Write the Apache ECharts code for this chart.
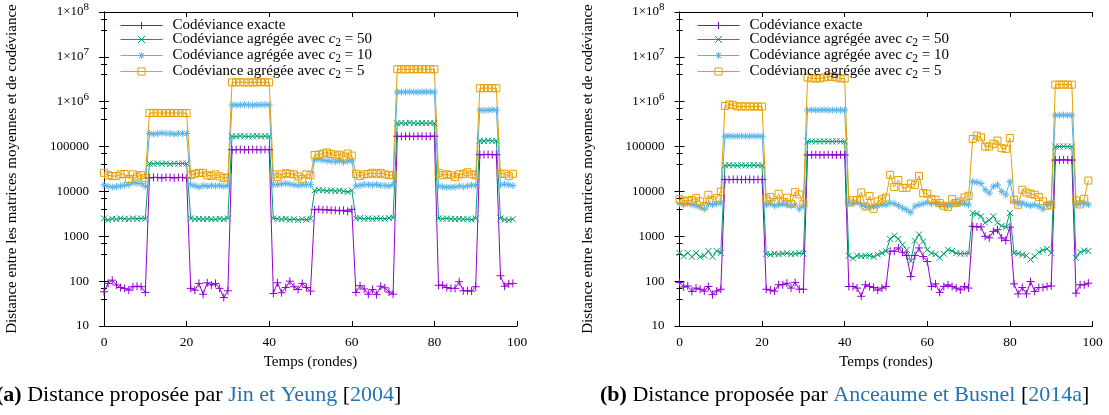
<!DOCTYPE html>
<html>
<head>
<meta charset="utf-8">
<script src="https://cdn.jsdelivr.net/npm/echarts@6/dist/echarts.min.js"></script>
<style>
  html, body { margin: 0; padding: 0; background: #fff; }
  #chart { width: 1109px; height: 415px; }
</style>
</head>
<body>
<div id="chart"></div>
<script>
// rounds 0..99, one value per round
const exactA = [
  58, 89, 105, 82, 72, 69, 63, 75, 77, 75, 56,
  20000, 20500, 20500, 20000, 20500, 20500, 20000, 20500, 20500, 20000,
  69, 63, 89, 51, 92, 82, 89, 69, 43, 61,
  85000, 85000, 86000, 85000, 85000, 86000, 85000, 85000, 86000, 85000,
  53, 92, 55, 72, 100, 75, 65, 89, 72, 60,
  3900, 4000, 3900, 3900, 3800, 3800, 3700, 3800, 3600, 4000,
  56, 79, 67, 51, 65, 50, 77, 71, 57, 51,
  170000, 168000, 170000, 170000, 168000, 170000, 170000, 168000, 170000, 170000,
  81, 81, 72, 69, 69, 97, 61, 61, 60, 75,
  66000, 66000, 67000, 66000, 66000,
  132, 77, 87, 89
];
const c50A = [
  2500, 2300, 2450, 2400, 2500, 2450, 2400, 2500, 2450, 2500, 2450,
  42000, 41000, 42000, 41500, 42000, 41000, 42000, 41500, 42000, 42000,
  2500, 2400, 2450, 2400, 2450, 2400, 2400, 2450, 2400, 2500,
  170000, 168000, 172000, 170000, 168000, 170000, 172000, 168000, 170000, 170000,
  2500, 2450, 2400, 2450, 2350, 2400, 2300, 2400, 2350, 2450,
  10500, 10800, 10600, 10300, 10500, 10200, 10400, 10100, 9800, 10500,
  2500, 2550, 2450, 2500, 2450, 2500, 2500, 2450, 2550, 2600,
  330000, 335000, 330000, 340000, 335000, 330000, 335000, 330000, 335000, 330000,
  2500, 2450, 2500, 2450, 2400, 2450, 2400, 2400, 2350, 2500,
  135000, 133000, 136000, 134000, 135000,
  2500, 2350, 2300, 2400
];
const c10A = [
  14000, 13000, 12500, 12800, 13200, 13800, 14200, 15800, 15300, 15000, 13000,
  195000, 190000, 195000, 200000, 195000, 195000, 190000, 195000, 195000, 195000,
  14000, 13500, 12500, 13500, 13000, 13500, 13200, 13500, 13000, 13500,
  850000, 840000, 850000, 860000, 850000, 840000, 850000, 850000, 860000, 850000,
  14200, 14200, 14600, 15000, 14600, 14000, 13500, 14000, 14200, 14200,
  50000, 52000, 50000, 48000, 47000, 46000, 48000, 45000, 47000, 48000,
  13200, 13600, 14200, 14200, 13900, 14200, 13600, 13600, 13200, 14200,
  1650000, 1640000, 1650000, 1660000, 1650000, 1640000, 1650000, 1660000, 1650000, 1650000,
  13200, 12700, 12500, 12500, 12500, 13200, 12700, 13200, 13800, 13600,
  650000, 640000, 650000, 660000, 650000,
  14000, 14500, 14000, 13500
];
const c5A = [
  26000, 23000, 22000, 22000, 24000, 24500, 19000, 24000, 21500, 23000, 19800,
  560000, 565000, 560000, 555000, 560000, 565000, 560000, 560000, 555000, 560000,
  23000, 24700, 26000, 26000, 23000, 22000, 24000, 21600, 19800, 20500,
  2700000, 2700000, 2720000, 2700000, 2680000, 2700000, 2700000, 2720000, 2700000, 2700000,
  24000, 20800, 24000, 25500, 24700, 24000, 21600, 19100, 24000, 23000,
  65000, 66000, 70000, 74000, 68000, 63000, 66000, 60000, 70000, 63000,
  24700, 22000, 24000, 24700, 26000, 24700, 26000, 24000, 23000, 23000,
  5300000, 5300000, 5250000, 5300000, 5300000, 5350000, 5300000, 5300000, 5250000, 5300000,
  26000, 23000, 24000, 23000, 20800, 24000, 24700, 26800, 24000, 23000,
  2000000, 2000000, 2020000, 2000000, 2000000,
  24700, 24700, 22000, 24700
];

const exactB = [
  93, 74, 78, 59, 70, 66, 60, 76, 50, 60, 66,
  18500, 18300, 18500, 18500, 18300, 18500, 18500, 18300, 18500, 18500,
  66, 63, 60, 83, 83, 90, 70, 93, 66, 66,
  65000, 65000, 66000, 65000, 65000, 66000, 65000, 65000, 66000, 65000,
  76, 76, 70, 46, 83, 76, 72, 63, 70, 76,
  464, 464, 550, 440, 372, 127, 372, 550, 353, 273,
  76, 87, 56, 76, 83, 76, 70, 64, 76, 70,
  1670, 1620, 1620, 1000, 920, 1290, 1400, 920, 810, 1600,
  87, 52, 72, 52, 98, 59, 72, 72, 76, 78,
  50000, 50000, 51000, 50000, 50000,
  54, 83, 83, 90
];
const c50B = [
  425, 360, 425, 350, 425, 350, 370, 470, 350, 470, 425,
  38000, 38500, 38000, 38000, 38500, 38000, 38000, 38500, 38000, 38000,
  400, 390, 410, 400, 410, 420, 400, 410, 420, 410,
  130000, 131000, 130000, 130000, 131000, 130000, 130000, 131000, 130000, 130000,
  370, 320, 370, 360, 370, 370, 350, 390, 425, 465,
  870, 1030, 870, 650, 500, 280, 800, 1100, 770, 500,
  420, 400, 330, 410, 500, 470, 420, 410, 410, 410,
  3300, 3200, 2800, 2000, 2300, 2800, 2000, 1700, 1600, 3300,
  426, 412, 391, 372, 303, 359, 441, 489, 523, 426,
  100000, 100000, 101000, 100000, 100000,
  330, 440, 480, 470
];
const c10B = [
  5300, 5050, 5300, 5050, 4800, 4500, 4050, 5300, 5050, 5300, 5500,
  170000, 172000, 170000, 170000, 172000, 170000, 170000, 172000, 170000, 170000,
  5000, 5300, 4800, 5000, 5300, 5000, 4800, 5000, 4050, 4800,
  650000, 655000, 650000, 650000, 655000, 650000, 650000, 655000, 650000, 650000,
  5500, 5300, 5700, 5050, 4600, 4500, 4500, 4800, 5050, 5050,
  5500, 5320, 4800, 4260, 3900, 3400, 4650, 5050, 5320, 5700,
  5320, 5500, 5050, 5050, 4800, 5050, 5320, 5500, 5320, 5050,
  16700, 16000, 15000, 10900, 9200, 13000, 14000, 10000, 8400, 16700,
  6000, 5300, 5500, 5050, 4800, 5050, 4650, 4050, 5050, 5500,
  500000, 500000, 505000, 500000, 500000,
  5050, 5320, 5500, 5050
];
const c5B = [
  6700, 6200, 6200, 6400, 7100, 6000, 4700, 8400, 6400, 7100, 9900,
  800000, 870000, 840000, 780000, 790000, 780000, 780000, 780000, 780000, 780000,
  6870, 7480, 5800, 8880, 5800, 7250, 5320, 9660, 8600, 5320,
  3470000, 3300000, 3300000, 3300000, 3470000, 3600000, 3600000, 3470000, 3300000, 3300000,
  5700, 6400, 6400, 9500, 4600, 7900, 4100, 6000, 6700, 7300,
  23500, 12500, 18000, 12000, 12000, 15000, 14000, 22000, 9200, 8900,
  6750, 6530, 5500, 4800, 4480, 6750, 5500, 6000, 7360, 8000,
  148000, 175000, 160000, 100000, 100000, 115000, 136000, 92000, 89000, 155000,
  6530, 5050, 10900, 9500, 8900, 8430, 7480, 6000, 4800, 5050,
  2400000, 2400000, 2420000, 2400000, 2400000,
  6300, 5130, 6870, 17500
];

const seriesNames = [
  'Codéviance exacte',
  'Codéviance agrégée avec c2 = 50',
  'Codéviance agrégée avec c2 = 10',
  'Codéviance agrégée avec c2 = 5'
];
const legendLabels = [
  '{t|Codéviance exacte}',
  '{t|Codéviance agrégée avec }{it|c}{sub|2}{t| = 50}',
  '{t|Codéviance agrégée avec }{it|c}{sub|2}{t| = 10}',
  '{t|Codéviance agrégée avec }{it|c}{sub|2}{t| = 5}'
];
const yTickLabels = ['10', '100', '1000', '10000', '100000', '1×10{sup|6}', '1×10{sup|7}', '1×10{sup|8}'];
const xName = 'Temps (rondes)';
const yName = 'Distance entre les matrices moyennes et de codéviance';

const colors = ['#9400d3', '#009e73', '#56b4e9', '#e69f00'];
const symbols = [
  'path://M5 0V10M0 5H10',
  'path://M0 0L10 10M10 0L0 10',
  'path://M5 0V10M0 5H10M1.5 1.5L8.5 8.5M8.5 1.5L1.5 8.5',
  'path://M0 0H10V10H0Z'
];
const symbolSizes = [8, 6, 7, 7];
const SERIF = '"Liberation Serif", "DejaVu Serif", serif';

const panels = [[exactA, c50A, c10A, c5A], [exactB, c50B, c10B, c5B]];
const gridLefts = [104, 679.5];
const legendLefts = [120, 697];

let chart = echarts.init(document.getElementById('chart'), null, {renderer: 'canvas'});

let grids = [], xAxes = [], yAxes = [], series = [], legends = [];
panels.forEach((sets, p) => {
  grids.push({left: gridLefts[p], top: 12, width: 413, height: 314});
  let tick = {show: true, inside: true, length: 5, lineStyle: {color: '#000', width: 1}};
  let line = {show: true, lineStyle: {color: '#000', width: 1}};
  xAxes.push({
    gridIndex: p, type: 'value', min: 0, max: 100, interval: 20,
    axisLine: line, axisTick: tick, splitLine: {show: false},
    axisLabel: {color: '#000', fontFamily: SERIF, fontSize: 13.5, margin: 9},
    name: xName, nameLocation: 'middle', nameGap: 29,
    nameTextStyle: {color: '#000', fontFamily: SERIF, fontSize: 15}
  });
  xAxes.push({
    gridIndex: p, type: 'value', position: 'top', min: 0, max: 100, interval: 20,
    axisLine: line, axisTick: tick, splitLine: {show: false}, axisLabel: {show: false}
  });
  let minor = {show: true, splitNumber: 3, length: 3, lineStyle: {color: '#000', width: 1}};
  yAxes.push({
    gridIndex: p, type: 'log', logBase: 10, min: 10, max: 1e8, interval: 1,
    axisLine: line, axisTick: tick, minorTick: minor,
    splitLine: {show: false}, minorSplitLine: {show: false},
    axisLabel: {
      color: '#000', fontFamily: SERIF, fontSize: 13, margin: 15, lineHeight: 20,
      formatter: v => yTickLabels[Math.round(Math.log10(v)) - 1],
      rich: {sup: {fontFamily: SERIF, fontSize: 11, color: '#000', verticalAlign: 'top', lineHeight: 10}}
    },
    name: yName, nameLocation: 'middle', nameGap: 84,
    nameTextStyle: {color: '#000', fontFamily: SERIF, fontSize: 15}
  });
  yAxes.push({
    gridIndex: p, type: 'log', logBase: 10, position: 'right', min: 10, max: 1e8, interval: 1,
    axisLine: line, axisTick: tick, minorTick: minor,
    splitLine: {show: false}, minorSplitLine: {show: false}, axisLabel: {show: false}
  });
  sets.forEach((vals, k) => {
    series.push({
      name: seriesNames[k], type: 'line',
      xAxisIndex: p * 2, yAxisIndex: p * 2,
      data: vals.map((v, i) => [i, v]),
      symbol: symbols[k], symbolSize: symbolSizes[k], showAllSymbol: true,
      lineStyle: {color: colors[k], width: 1},
      itemStyle: {color: 'transparent', borderColor: colors[k], borderWidth: 1},
      emphasis: {disabled: true},
      animation: false
    });
  });
  legends.push({
    left: legendLefts[p], top: 18, orient: 'vertical', padding: 0,
    itemWidth: 42, itemHeight: 9, itemGap: -3,
    selectedMode: false,
    data: seriesNames,
    formatter: name => legendLabels[seriesNames.indexOf(name)],
    itemStyle: {borderWidth: 1},
    lineStyle: {width: 1},
    textStyle: {
      color: '#000', fontFamily: SERIF, fontSize: 15, lineHeight: 15, padding: [0, 0, 0, 5],
      rich: {
        t: {fontFamily: SERIF, fontSize: 15, color: '#000', lineHeight: 15},
        it: {fontFamily: SERIF, fontSize: 15, fontStyle: 'italic', color: '#000', lineHeight: 15},
        sub: {fontFamily: SERIF, fontSize: 11.5, color: '#000', lineHeight: 8, padding: [7, 0, 0, 0]}
      }
    }
  });
});

let captionRich = {
  b: {fontFamily: SERIF, fontSize: 22, fontWeight: 'bold', fill: '#000'},
  l: {fontFamily: SERIF, fontSize: 22, fill: '#2474b5'}
};

let option = {
  animation: false,
  grid: grids,
  xAxis: xAxes,
  yAxis: yAxes,
  legend: legends,
  series: series,
  graphic: [
    {type: 'text', left: -4, top: 384,
     style: {text: '{b|(a)} Distance proposée par {l|Jin et Yeung} [{l|2004}]',
             fontFamily: SERIF, fontSize: 22, fill: '#000', rich: captionRich}},
    {type: 'text', left: 600, top: 384,
     style: {text: '{b|(b)} Distance proposée par {l|Anceaume et Busnel} [{l|2014a}]',
             fontFamily: SERIF, fontSize: 22, fill: '#000', rich: captionRich}}
  ]
};
chart.setOption(option);
</script>
</body>
</html>
